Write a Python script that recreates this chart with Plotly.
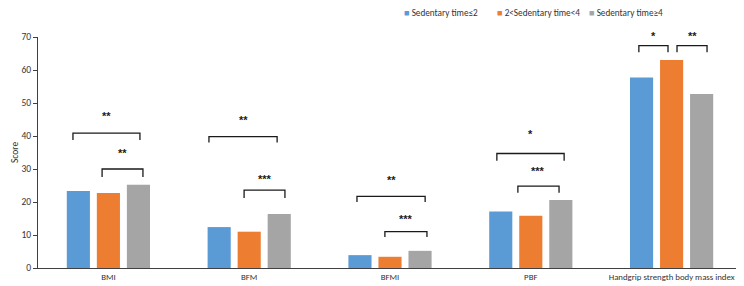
import plotly.graph_objects as go

categories = ["BMI", "BFM", "BFMI", "PBF", "Handgrip strength body mass index"]
series_names = ["Sedentary time≤2", "2<Sedentary time<4", "Sedentary time≥4"]
low_values = [23.3, 12.4, 3.9, 17.1, 57.7]
mid_values = [22.7, 11.0, 3.4, 15.8, 63.0]
high_values = [25.2, 16.4, 5.2, 20.6, 52.7]
colors = ["#5B9BD5", "#ED7D31", "#A5A5A5"]
y_ticks = [0, 10, 20, 30, 40, 50, 60, 70]
y_max = 70

# significance brackets: category index, start slot, end slot, top, tick bottom, star y, stars
brackets = [
    (0, -1.18, 1.05, 40.9, 38.8, 46.0, "**"),
    (0, -0.21, 1.15, 30.0, 27.6, 34.8, "**"),
    (1, -1.34, 0.93, 39.8, 38.0, 44.8, "**"),
    (1, -0.17, 1.19, 23.6, 21.2, 27.0, "***"),
    (2, -1.10, 1.17, 21.7, 20.0, 26.7, "**"),
    (2, -0.17, 1.23, 11.0, 9.4, 14.8, "***"),
    (3, -1.13, 1.11, 34.7, 32.5, 40.6, "*"),
    (3, -0.43, 0.94, 24.8, 22.8, 29.4, "***"),
    (4, -1.09, -0.12, 67.4, 65.4, 70.3, "*"),
    (4, 0.18, 1.18, 67.4, 65.4, 70.3, "**"),
]

# legend entry positions (paper coordinates)
legend_x = [0.517, 0.649, 0.780]
legend_y = 1.104

FONT = "Carlito, Lato, 'Liberation Sans', sans-serif"
STAR_FONT = "'Liberation Sans', Arial, sans-serif"
bargap = 0.36
slot = (1 - bargap) / 3
xs = list(range(len(categories)))

fig = go.Figure()
for name, vals, col in zip(series_names, [low_values, mid_values, high_values], colors):
    fig.add_trace(go.Bar(x=xs, y=vals, name=name, showlegend=False,
                         marker=dict(color=col, line=dict(width=0))))

shapes = []
annotations = []
for cat, s0, s1, top, bot, sy, stars in brackets:
    x0 = cat + s0 * slot
    x1 = cat + s1 * slot
    shapes.append(dict(type="path", xref="x", yref="y",
                       path=f"M {x0},{bot} L {x0},{top} L {x1},{top} L {x1},{bot}",
                       line=dict(color="#1a1a1a", width=1.3)))
    annotations.append(dict(x=(x0 + x1) / 2, y=sy / y_max, xref="x", yref="paper",
                            text=f"<b>{stars}</b>", showarrow=False,
                            font=dict(size=11, color="#1a1a1a", family=STAR_FONT),
                            yanchor="middle"))

for name, col, lx in zip(series_names, colors, legend_x):
    annotations.append(dict(x=lx, y=legend_y, xref="paper", yref="paper", xanchor="left",
                            yanchor="middle", showarrow=False,
                            text=f"<span style='color:{col}'>■</span> {name}",
                            font=dict(size=9.2, color="#333333", family=FONT)))

fig.update_layout(
    width=736, height=278,
    margin=dict(l=30, r=2, t=29, b=18),
    plot_bgcolor="white", paper_bgcolor="white",
    barmode="group", bargap=bargap, bargroupgap=0.23,
    font=dict(family=FONT, size=9.5, color="#333333"),
    shapes=shapes, annotations=annotations, showlegend=False,
    xaxis=dict(range=[-0.5, 4.5], tickmode="array", tickvals=xs, ticktext=categories,
               showline=True, linecolor="#404040", linewidth=1, ticks="", showgrid=False,
               zeroline=False, tickfont=dict(size=8.8, color="#333333")),
    yaxis=dict(range=[0, y_max], tickmode="array", tickvals=y_ticks, showline=True,
               linecolor="#404040", linewidth=1, ticks="outside", ticklen=4, tickcolor="#404040",
               showgrid=False, zeroline=False, tickfont=dict(size=9.5, color="#333333"),
               title=dict(text="Score", standoff=0, font=dict(size=9.5, color="#333333"))),
)

fig.write_html("out.html")
